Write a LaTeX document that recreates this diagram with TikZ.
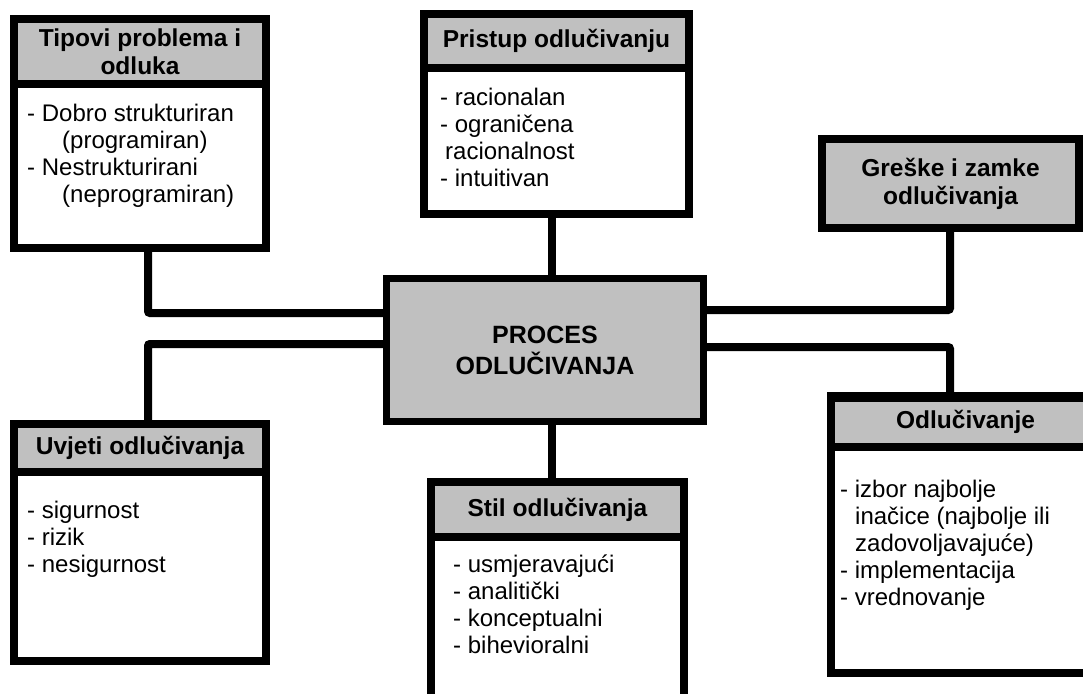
\documentclass[tikz,border=0pt]{standalone}
\usepackage{fontspec}
\setmainfont{Liberation Sans}
\definecolor{hdrgray}{RGB}{192,192,192}
\tikzset{
  frame/.style={rectangle, draw=black, line width=8pt, fill=white, inner sep=0pt},
  hdr/.style={rectangle, draw=black, line width=8pt, fill=hdrgray, inner sep=0pt, align=center,
    font=\fontsize{24.5}{28}\selectfont\bfseries},
  bodytext/.style={inner sep=0pt, anchor=north west, align=left,
    font=\fontsize{24}{27}\selectfont},
  conn/.style={draw=black, line width=8pt, rounded corners=2pt}
}
\begin{document}
\begin{tikzpicture}[x=1pt, y=-1pt]
\useasboundingbox (0,0) rectangle (1083,693);
\clip (0,0) rectangle (1083,693);

% central box
\node[rectangle, draw=black, line width=7pt, fill=hdrgray, inner sep=0pt,
  minimum width=317pt, minimum height=143pt, align=center,
  font=\fontsize{25}{31}\selectfont\bfseries] (proc) at (545,350) {PROCES\\ODLUČIVANJA};

% Tipovi problema i odluka
\node[frame, minimum width=252pt, minimum height=229pt] (tip) at (140,133.5) {};
\node[hdr, minimum width=252pt, minimum height=65pt] (tiph) at (140,51.5) {Tipovi problema i\\odluka};
\node[bodytext] (tipb) at (27,102.1) {\strut- Dobro strukturiran\\\hspace*{35pt}(programiran)\\- Nestrukturirani\\\hspace*{35pt}(neprogramiran)};

% Pristup odlucivanju
\node[frame, minimum width=265pt, minimum height=200pt] (pri) at (556.5,114) {};
\node[hdr, minimum width=265pt, minimum height=54pt] (prih) at (556.5,41) {Pristup odlučivanju};
\node[bodytext] (prib) at (440,86.1) {\strut- racionalan\\- ograničena\\\hspace*{5pt}racionalnost\\- intuitivan};

% Greske i zamke odlucivanja
\node[hdr, minimum width=257pt, minimum height=89pt] (gre) at (950.5,183.5) {Greške i zamke\\odlučivanja};

% Uvjeti odlucivanja
\node[frame, minimum width=252pt, minimum height=237pt] (uvj) at (140,542.5) {};
\node[hdr, minimum width=252pt, minimum height=48pt] (uvjh) at (140,448) {Uvjeti odlučivanja};
\node[bodytext] (uvjb) at (27,499.1) {\strut- sigurnost\\- rizik\\- nesigurnost};

% Stil odlucivanja
\node[frame, minimum width=253pt, minimum height=238pt] (sti) at (557.5,601) {};
\node[hdr, minimum width=253pt, minimum height=55pt] (stih) at (557.5,509.5) {Stil odlučivanja};
\node[bodytext] (stib) at (453,553.1) {\strut- usmjeravajući\\- analitički\\- konceptualni\\- bihevioralni};

% Odlucivanje
\node[frame, minimum width=269pt, minimum height=277pt] (odl) at (965.5,534.5) {};
\node[hdr, minimum width=269pt, minimum height=49pt] (odlh) at (965.5,422) {Odlučivanje};
\node[bodytext] (odlb) at (840,478.1) {\strut- izbor najbolje\\\hspace*{15pt}inačice (najbolje ili\\\hspace*{15pt}zadovoljavajuće)\\- implementacija\\- vrednovanje};

% connectors
\draw[conn] ([xshift=8pt]tip.south) |- ([yshift=37pt]proc.west);
\draw[conn] ([xshift=8pt]uvj.north) |- ([yshift=6pt]proc.west);
\coordinate (c1) at ([xshift=-4.5pt]pri.south);
\draw[conn] (c1) -- (c1 |- proc.north);
\coordinate (c2) at ([xshift=-5.5pt]sti.north);
\draw[conn] (c2) -- (c2 |- proc.south);
\draw[conn] ([xshift=-0.5pt]gre.south) |- ([yshift=40pt]proc.east);
\draw[conn] ([yshift=3pt]proc.east) -| ([xshift=-15.5pt]odl.north);
\end{tikzpicture}
\end{document}
